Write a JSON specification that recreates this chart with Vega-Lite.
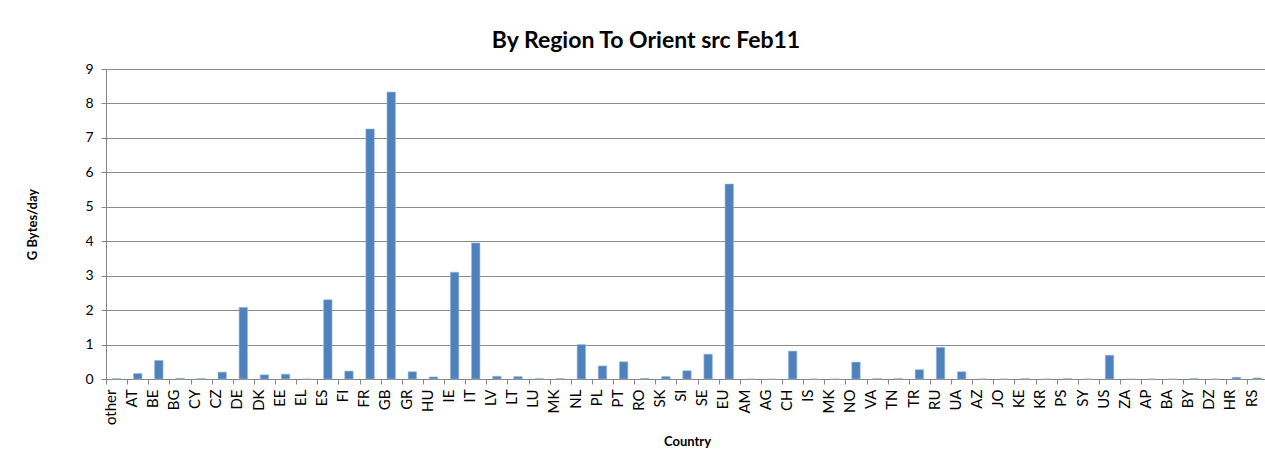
{
  "$schema": "https://vega.github.io/schema/vega-lite/v6.json",
  "autosize": "none",
  "padding": {"left": 106, "top": 69, "right": 0, "bottom": 72},
  "width": 1162,
  "height": 310,
  "background": "white",
  "title": {
    "text": "By Region To Orient src Feb11",
    "font": "Lato",
    "fontSize": 23,
    "fontWeight": "bold",
    "color": "#000000",
    "anchor": "middle",
    "baseline": "alphabetic",
    "dx": -41,
    "dy": 21,
    "offset": 12
  },
  "data": {
    "values": [
      {"country": "other", "value": 0.01},
      {"country": "AT", "value": 0.16},
      {"country": "BE", "value": 0.54},
      {"country": "BG", "value": 0.02},
      {"country": "CY", "value": 0.01},
      {"country": "CZ", "value": 0.2},
      {"country": "DE", "value": 2.08},
      {"country": "DK", "value": 0.12},
      {"country": "EE", "value": 0.14},
      {"country": "EL", "value": 0.0},
      {"country": "ES", "value": 2.3},
      {"country": "FI", "value": 0.23},
      {"country": "FR", "value": 7.26},
      {"country": "GB", "value": 8.33},
      {"country": "GR", "value": 0.21},
      {"country": "HU", "value": 0.06},
      {"country": "IE", "value": 3.1},
      {"country": "IT", "value": 3.95},
      {"country": "LV", "value": 0.08},
      {"country": "LT", "value": 0.07},
      {"country": "LU", "value": 0.01},
      {"country": "MK", "value": 0.01},
      {"country": "NL", "value": 1.0},
      {"country": "PL", "value": 0.38},
      {"country": "PT", "value": 0.5},
      {"country": "RO", "value": 0.02},
      {"country": "SK", "value": 0.07},
      {"country": "SI", "value": 0.24},
      {"country": "SE", "value": 0.72},
      {"country": "EU", "value": 5.66},
      {"country": "AM", "value": 0.0},
      {"country": "AG", "value": 0.0},
      {"country": "CH", "value": 0.81},
      {"country": "IS", "value": 0.0},
      {"country": "MK2", "value": 0.0},
      {"country": "NO", "value": 0.49},
      {"country": "VA", "value": 0.01},
      {"country": "TN", "value": 0.01},
      {"country": "TR", "value": 0.27},
      {"country": "RU", "value": 0.92},
      {"country": "UA", "value": 0.21},
      {"country": "AZ", "value": 0.0},
      {"country": "JO", "value": 0.0},
      {"country": "KE", "value": 0.01},
      {"country": "KR", "value": 0.0},
      {"country": "PS", "value": 0.01},
      {"country": "SY", "value": 0.0},
      {"country": "US", "value": 0.69},
      {"country": "ZA", "value": 0.0},
      {"country": "AP", "value": 0.0},
      {"country": "BA", "value": 0.0},
      {"country": "BY", "value": 0.01},
      {"country": "DZ", "value": 0.0},
      {"country": "HR", "value": 0.05},
      {"country": "RS", "value": 0.03}
    ]
  },
  "mark": {"type": "bar", "color": "#4F81BD", "stroke": "#9DB8DA", "strokeWidth": 0.6},
  "encoding": {
    "x": {
      "field": "country",
      "type": "nominal",
      "sort": null,
      "scale": {"paddingInner": 0.6, "paddingOuter": 0.3},
      "axis": {
        "title": "Country",
        "titleFont": "Lato",
        "titleFontSize": 13,
        "titleFontWeight": "bold",
        "titleColor": "#000000",
        "titleBaseline": "alphabetic",
        "titleY": 66,
        "titleX": 581,
        "labelAngle": -90,
        "labelAlign": "right",
        "labelBaseline": "middle",
        "labelFont": "Lato",
        "labelFontSize": 15,
        "labelColor": "#000000",
        "labelPadding": 5,
        "labelExpr": "datum.value == 'MK2' ? 'MK' : datum.value",
        "bandPosition": 0,
        "tickOffset": -6.34,
        "ticks": true,
        "tickSize": 5,
        "tickColor": "#868686",
        "domainColor": "#868686",
        "grid": false
      }
    },
    "y": {
      "field": "value",
      "type": "quantitative",
      "scale": {"domain": [0, 9], "nice": false},
      "axis": {
        "title": "G Bytes/day",
        "titleFont": "Lato",
        "titleFontSize": 13,
        "titleFontWeight": "bold",
        "titleColor": "#000000",
        "titleAngle": -90,
        "titleBaseline": "middle",
        "titleAlign": "center",
        "titleX": -74,
        "titleY": 155,
        "values": [0, 1, 2, 3, 4, 5, 6, 7, 8, 9],
        "labelFont": "Lato",
        "labelFontSize": 14,
        "labelColor": "#000000",
        "labelPadding": 8,
        "tickSize": 5,
        "tickColor": "#868686",
        "domainColor": "#868686",
        "grid": true,
        "gridColor": "#8C8C8C",
        "gridWidth": 1
      }
    }
  },
  "config": {
    "view": {"stroke": null}
  }
}
